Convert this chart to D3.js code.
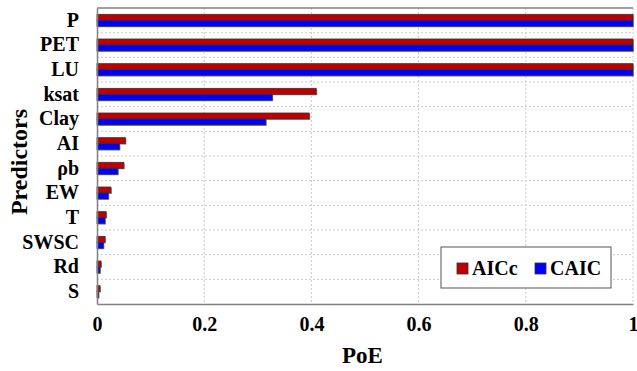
<!DOCTYPE html>
<html>
<head>
<meta charset="utf-8">
<script src="https://cdn.jsdelivr.net/npm/d3@7"></script>
<style>
  body { margin: 0; background: #fff; }
</style>
</head>
<body>
<svg id="chart" width="637" height="371"></svg>
<script>
/*jslint browser: true*/
// predictors, top to bottom
var predictors = ['P', 'PET', 'LU', 'ksat', 'Clay', 'AI', 'ρb', 'EW', 'T', 'SWSC', 'Rd', 'S'];
var aicc = [1, 1, 1, 0.409, 0.396, 0.053, 0.050, 0.026, 0.017, 0.015, 0.0075, 0.0056];
var caic = [1, 1, 1, 0.327, 0.315, 0.042, 0.039, 0.021, 0.015, 0.012, 0.0056, 0.003];
var xTicks = [0, 0.2, 0.4, 0.6, 0.8, 1];
var seriesNames = ['AICc', 'CAIC'];
var seriesColors = ['#c00000', '#0000ff'];

(function (d3) {
    'use strict';

    var FONT = '"Liberation Serif", "Times New Roman", serif';
    var svg = d3.select('#chart');
    var left = 97, right = 633, top = 8, bottom = 304;

    var x = d3.scaleLinear().domain([0, 1]).range([left, right]);
    var y = d3.scaleBand().domain(predictors).range([top, bottom]);
    var inner = d3.scaleBand().domain(seriesNames).range([0, 12]);

    function styleText(sel, size) {
        sel.attr('font-family', FONT)
            .attr('font-weight', 'bold')
            .attr('font-size', size)
            .attr('fill', '#000');
    }

    // gridlines
    var grid = svg.append('g');
    grid.selectAll('line.v')
        .data(xTicks.slice(1))
        .enter().append('line')
        .attr('x1', function (d) { return x(d); })
        .attr('x2', function (d) { return x(d); })
        .attr('y1', top).attr('y2', bottom)
        .attr('stroke', '#cccccc').attr('stroke-dasharray', '2,2');
    grid.selectAll('line.h')
        .data(predictors.slice(1))
        .enter().append('line')
        .attr('x1', left).attr('x2', right)
        .attr('y1', function (d) { return y(d); })
        .attr('y2', function (d) { return y(d); })
        .attr('stroke', '#cccccc').attr('stroke-dasharray', '2,2');

    // top frame line
    svg.append('line').attr('x1', left).attr('x2', right).attr('y1', top).attr('y2', top)
        .attr('stroke', '#808080').attr('stroke-width', 1.5);

    // bars
    var series = [aicc, caic];
    series.forEach(function (vals, si) {
        var off = (y.bandwidth() - 12) / 2 + inner(seriesNames[si]);
        // shadow
        svg.append('g').selectAll('rect')
            .data(vals)
            .enter().append('rect')
            .attr('x', x(0) + 1)
            .attr('y', function (d, i) { return y(predictors[i]) + off + 1; })
            .attr('width', function (d) { return Math.max(0, x(d) - x(0)); })
            .attr('height', inner.bandwidth())
            .attr('fill', '#a0a0a0');
        svg.append('g').selectAll('rect')
            .data(vals)
            .enter().append('rect')
            .attr('x', x(0))
            .attr('y', function (d, i) { return y(predictors[i]) + off; })
            .attr('width', function (d) { return x(d) - x(0); })
            .attr('height', inner.bandwidth())
            .attr('fill', seriesColors[si])
            .attr('stroke', '#333').attr('stroke-width', 0.8);
    });

    // axes
    var xAxis = svg.append('g')
        .attr('transform', 'translate(0,' + bottom + ')')
        .call(d3.axisBottom(x).tickValues(xTicks).tickSize(0).tickPadding(13)
            .tickFormat(function (d) { return d === 0 || d === 1 ? String(d) : d.toFixed(1); }));
    xAxis.attr('font-family', FONT);
    xAxis.select('.domain').attr('stroke', '#808080').attr('stroke-width', 1.5);
    styleText(xAxis.selectAll('text'), 20);

    var yAxis = svg.append('g')
        .attr('transform', 'translate(' + left + ',0)')
        .call(d3.axisLeft(y).tickSize(0).tickPadding(18));
    yAxis.attr('font-family', FONT);
    yAxis.select('.domain').attr('stroke', '#808080').attr('stroke-width', 1.5);
    styleText(yAxis.selectAll('text'), 20);

    // axis titles
    styleText(svg.append('text')
        .attr('x', (left + right) / 2 - 23)
        .attr('y', 363)
        .text('PoE'), 23);
    styleText(svg.append('text')
        .attr('transform', 'translate(27,162) rotate(-90)')
        .attr('text-anchor', 'middle')
        .text('Predictors'), 24);

    // legend
    var lg = svg.append('g').attr('transform', 'translate(441,247)');
    lg.append('rect').attr('width', 170).attr('height', 41)
        .attr('fill', '#fff').attr('stroke', '#555').attr('stroke-width', 1);
    var items = lg.selectAll('g.item')
        .data(seriesNames)
        .enter().append('g')
        .attr('transform', function (d, i) { return 'translate(' + (16 + i * 78) + ',16)'; });
    items.append('rect')
        .attr('width', 11).attr('height', 11)
        .attr('fill', function (d, i) { return seriesColors[i]; })
        .attr('stroke', '#333').attr('stroke-width', 0.8);
    styleText(items.append('text')
        .attr('x', 15).attr('y', 12)
        .text(function (d) { return d; }), 20);
}(window.d3));
</script>
</body>
</html>
